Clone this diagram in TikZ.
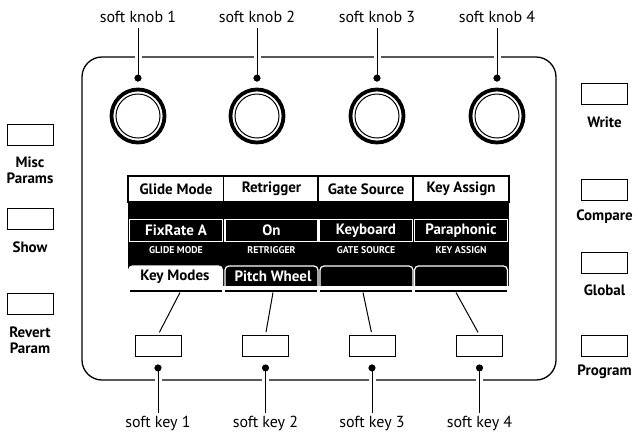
\documentclass[tikz,border=0pt]{standalone}
\usepackage{fontspec}
\setmainfont{PT Sans}
\begin{document}
\begin{tikzpicture}[x=1pt,y=-1pt,
  lbl/.style={font=\fontsize{16}{18}\selectfont, inner sep=1pt},
  sidelbl/.style={font=\bfseries\fontsize{15}{16}\selectfont, inner sep=0pt, align=center},
  btn/.style={draw, line width=1pt, minimum width=46pt, minimum height=21pt, inner sep=0pt},
  knob/.style={circle, draw, line width=3.8pt, minimum size=53pt, inner sep=0pt},
  knobin/.style={circle, draw, line width=1pt, minimum size=44pt, inner sep=0pt},
  kdot/.style={circle, fill, minimum size=7pt, inner sep=0pt},
  halo/.style={line width=1pt, preaction={draw=white, line width=7pt}},
  hdr/.style={draw=black, fill=white, line width=1.5pt, minimum width=96pt, minimum height=26pt, inner sep=0pt, font=\bfseries\fontsize{15}{17}\selectfont},
  val/.style={draw=white, fill=black, text=white, line width=1.3pt, minimum width=93pt, minimum height=22pt, inner sep=0pt, font=\bfseries\fontsize{15}{17}\selectfont},
  capt/.style={text=white, inner sep=0pt, font=\bfseries\fontsize{9.8}{11}\selectfont},
  tabtxt/.style={inner sep=0pt, font=\bfseries\fontsize{15}{17}\selectfont},
  uline/.style={line width=1.5pt},
  conn/.style={line width=1pt}
]
\useasboundingbox (0,0) rectangle (638,432);

% panel
\draw[line width=1.3pt, rounded corners=20pt] (82,57) rectangle (556,380);

% knobs
\foreach \i/\x in {1/138,2/257,3/377,4/497}{
  \node[knob] (k\i) at (\x,116) {};
  \node[knobin] (ki\i) at (\x,116) {};
  \node[lbl] (l\i) at (\x,17) {soft knob \i};
  \coordinate (lt\i) at (\x,28);
  \node[kdot] (d\i) at (\x,78) {};
  \draw[halo] (lt\i) -- (d\i.center);
  \node[kdot] at (d\i) {};
}

% display
\fill (128,176) rectangle (509,286);
\foreach \i/\x/\h/\v/\c in {1/176/Glide Mode/FixRate A/GLIDE MODE,2/271.5/Retrigger/On/RETRIGGER,3/366/Gate Source/Keyboard/GATE SOURCE,4/461/Key Assign/Paraphonic/KEY ASSIGN}{
  \node[hdr] (h\i) at (\x,189) {\h};
  \node[val] (v\i) at (\x,230.5) {\v};
  \node[capt] (c\i) at (\x,250.5) {\c};
}
% tabs
\filldraw[fill=white, draw=white, line width=1.2pt, rounded corners=4pt] (128.6,286) -- (128.6,266) -- (222.5,266) [sharp corners] -- (222.5,286);
\draw[draw=white, line width=1.2pt, rounded corners=4pt] (225,286) -- (225,266) -- (318,266) [sharp corners] -- (318,286);
\draw[draw=white, line width=1.2pt, rounded corners=4pt] (320,286) -- (320,266) -- (413,266) [sharp corners] -- (413,286);
\draw[draw=white, line width=1.2pt, rounded corners=4pt] (414.5,286) -- (414.5,266) -- (507.5,266) [sharp corners] -- (507.5,286);
\node[tabtxt] (t1) at (175,276.5) {Key Modes};
\node[tabtxt, text=white] (t2) at (273,276.5) {Pitch Wheel};

% underlines
\draw[uline] (130,291) -- (222,291);
\draw[uline] (225,291) -- (317,291);
\draw[uline] (320,291) -- (412,291);
\draw[uline] (415,291) -- (507,291);

% soft keys
\foreach \i/\x/\u in {1/158/180,2/265.5/273,3/372/363,4/479.5/456}{
  \node[btn] (s\i) at (\x,346) {};
  \coordinate (u\i) at (\u,292.5);
  \draw[conn, shorten >=3pt] (u\i) -- (s\i.north);
  \node[kdot] (e\i) at (\x,368) {};
  \node[lbl] (sl\i) at (\x,423) {soft key \i};
  \coordinate (sb\i) at (\x,413);
  \draw[halo] (e\i.center) -- (sb\i);
  \node[kdot] at (e\i) {};
}

% left buttons
\node[btn] (bm) at (30,134.5) {};
\node[sidelbl] (bml) at (30,170) {Misc\\Params};
\node[btn] (bs) at (30,218.5) {};
\node[sidelbl] (bsl) at (30,247) {Show};
\node[btn] (br) at (30,303.5) {};
\node[sidelbl] (brl) at (30,340) {Revert\\Param};

% right buttons
\node[btn] (bw) at (604.5,94) {};
\node[sidelbl] (bwl) at (604.5,122) {Write};
\node[btn] (bc) at (604.5,190) {};
\node[sidelbl] (bcl) at (604.5,217) {Compare};
\node[btn] (bg) at (604.5,262.5) {};
\node[sidelbl] (bgl) at (604.5,290) {Global};
\node[btn] (bp) at (604.5,346) {};
\node[sidelbl] (bpl) at (604.5,372) {Program};
\end{tikzpicture}
\end{document}
